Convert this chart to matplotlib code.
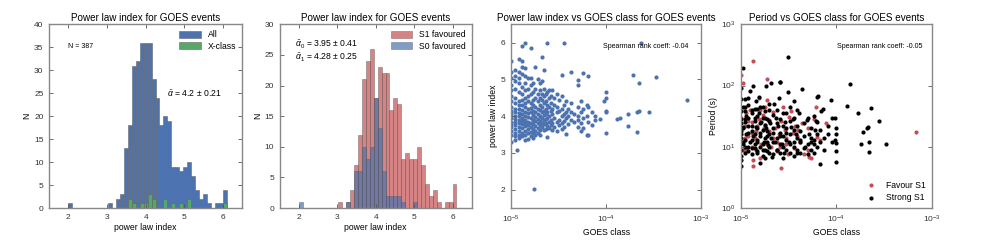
import numpy as np
import matplotlib
matplotlib.use("Agg")
import matplotlib.pyplot as plt
from matplotlib.ticker import NullLocator

plt.rcParams["font.family"] = ["Liberation Sans", "DejaVu Sans"]
plt.rcParams["mathtext.fontset"] = "custom"
plt.rcParams["mathtext.rm"] = "Liberation Sans"
plt.rcParams["mathtext.it"] = "Liberation Sans:italic"

# histogram bins (40 bins over the power law index range)
bin_edges = np.linspace(2.0, 6.1, 41)

# counts per bin, all events
all_counts = [1, 0, 0, 0, 0, 0, 0, 0, 0, 0,
              1, 0, 2, 3, 13, 18, 31, 32, 36, 36,
              36, 28, 24, 18, 20, 19, 9, 9, 8, 9,
              10, 7, 4, 2, 3, 1, 0, 1, 1, 4]
xclass_counts = [0, 0, 0, 0, 0, 0, 0, 0, 0, 0,
                 0, 0, 0, 0, 0, 2, 1, 0, 1, 1,
                 3, 2, 0, 0, 2, 0, 1, 0, 1, 0,
                 2, 0, 0, 0, 0, 0, 0, 0, 0, 1]
s1_counts = [0, 0, 0, 0, 0, 0, 0, 0, 0, 0,
             1, 0, 1, 3, 7, 12, 21, 24, 26, 18,
             23, 22, 22, 16, 18, 17, 8, 9, 8, 8,
             10, 7, 4, 2, 3, 1, 0, 1, 1, 4]
s0_counts = [1, 0, 0, 0, 0, 0, 0, 0, 0, 0,
             0, 0, 1, 0, 6, 6, 10, 8, 10, 18,
             13, 6, 2, 2, 2, 2, 1, 0, 0, 1,
             0, 0, 0, 0, 0, 0, 0, 0, 0, 0]

# power law index vs GOES class (GOES class in units of 1e-5 W/m^2)
pl_goes = [
    1.0, 1.0, 1.0, 1.0, 1.0, 1.0, 1.0, 1.0, 1.0, 1.0, 1.0, 1.0, 1.0, 1.0, 1.0, 1.0, 1.0,
    1.1, 1.1, 1.1, 1.1, 1.1, 1.1, 1.1, 1.1, 1.1, 1.1, 1.1, 1.1, 1.1, 1.1, 1.1, 1.1, 1.15,
    1.2, 1.2, 1.2, 1.2, 1.2, 1.2, 1.2, 1.2, 1.2, 1.2, 1.2, 1.2, 1.2, 1.2, 1.2, 1.2,
    1.3, 1.3, 1.3, 1.3, 1.3, 1.3, 1.3, 1.3, 1.3, 1.3, 1.3, 1.3, 1.3, 1.3, 1.3, 1.3,
    1.4, 1.4, 1.4, 1.4, 1.4, 1.4, 1.4, 1.4, 1.4, 1.4, 1.4, 1.4, 1.4, 1.4, 1.4, 1.4,
    1.5, 1.5, 1.5, 1.5, 1.5, 1.5, 1.5, 1.5, 1.5, 1.5, 1.5, 1.5,
    1.6, 1.6, 1.6, 1.6, 1.6, 1.6, 1.6, 1.6, 1.6, 1.6, 1.6, 1.6,
    1.7, 1.7, 1.7, 1.7, 1.7, 1.7, 1.7, 1.7, 1.7, 1.7, 1.7,
    1.75, 1.8, 1.8, 1.8, 1.8, 1.8, 1.8, 1.8, 1.8, 1.8, 1.8,
    1.9, 1.9, 1.9, 1.9, 1.9, 1.9, 1.9, 1.9, 1.9,
    2.0, 2.0, 2.0, 2.0, 2.0, 2.0, 2.0, 2.0, 2.0, 2.0,
    2.1, 2.1, 2.1, 2.1, 2.1, 2.1, 2.1, 2.1, 2.1,
    2.2, 2.2, 2.2, 2.2, 2.2, 2.2, 2.2, 2.2, 2.2,
    2.3, 2.3, 2.3, 2.3, 2.3, 2.3, 2.3,
    2.4, 2.4, 2.4, 2.4, 2.4, 2.4, 2.4,
    2.5, 2.5, 2.5, 2.5, 2.5, 2.5,
    2.6, 2.6, 2.6, 2.6, 2.6,
    2.7, 2.7, 2.7, 2.7, 2.7,
    2.8, 2.8, 2.8, 2.8,
    3.0, 3.0, 3.0, 3.0, 3.0,
    3.2, 3.2, 3.2, 3.2,
    3.4, 3.4, 3.4, 3.4, 3.4, 3.4,
    3.6, 3.6, 3.6, 3.6, 3.6,
    3.8, 3.8, 3.8, 3.8,
    4.0, 4.0, 4.0,
    4.3, 4.3, 4.3, 4.3,
    4.6, 4.6,
    5.0, 5.0, 5.0,
    5.1, 5.1, 5.1,
    5.4, 5.4, 5.4, 5.4,
    5.7, 5.7, 5.7, 5.7,
    6.2, 6.2, 6.2,
    6.5, 6.5, 6.5, 6.5,
    7.0, 7.0, 7.6, 7.6, 8.6, 9.4,
    10.0, 10.0, 10.0, 10.0, 10.0,
    13.0, 14.0, 17.0, 17.0, 19.0, 21.0, 21.0, 22.0, 22.0, 23.0, 28.0, 33.0, 70.0,
]
pl_index = [
    5.5, 5.2, 5.05, 4.85, 4.7, 4.55, 4.4, 4.25, 4.15, 4.05, 3.95, 3.85, 3.78, 3.7, 3.6, 3.5, 3.3,
    5.25, 5.1, 4.95, 4.75, 4.5, 4.35, 4.2, 4.1, 4.0, 3.92, 3.85, 3.75, 3.65, 3.55, 3.45, 3.35, 3.08,
    5.55, 5.2, 5.05, 4.9, 4.65, 4.4, 4.3, 4.2, 4.08, 4.0, 3.9, 3.82, 3.7, 3.6, 3.5, 3.4,
    5.9, 5.5, 5.35, 5.15, 4.8, 4.6, 4.45, 4.3, 4.18, 4.05, 3.95, 3.88, 3.78, 3.68, 3.55, 3.45,
    6.0, 5.3, 5.1, 4.9, 4.7, 4.5, 4.35, 4.25, 4.12, 4.0, 3.9, 3.8, 3.72, 3.6, 3.5, 3.35,
    5.05, 4.75, 4.55, 4.4, 4.2, 4.08, 3.98, 3.85, 3.75, 3.65, 3.55, 3.38,
    5.85, 5.05, 4.85, 4.6, 4.35, 4.22, 4.1, 3.95, 3.82, 3.7, 3.58, 3.45,
    4.9, 4.65, 4.45, 4.3, 4.15, 4.02, 3.9, 3.78, 3.66, 3.55, 3.4,
    2.03, 5.35, 4.75, 4.5, 4.25, 4.1, 3.98, 3.86, 3.72, 3.6, 3.5,
    5.0, 4.6, 4.4, 4.2, 4.05, 3.92, 3.8, 3.68, 3.55,
    4.9, 4.7, 4.5, 4.3, 4.18, 4.0, 3.88, 3.75, 3.62, 3.48,
    5.6, 4.95, 4.6, 4.45, 4.25, 4.1, 3.95, 3.82, 3.7,
    5.25, 4.75, 4.55, 4.35, 4.15, 4.02, 3.9, 3.78, 3.62,
    4.6, 4.4, 4.2, 4.05, 3.92, 3.8, 3.65,
    6.0, 4.65, 4.3, 4.1, 3.95, 3.72, 3.42,
    4.7, 4.5, 4.25, 4.0, 3.85, 3.68,
    4.55, 4.35, 4.15, 3.9, 3.75,
    4.7, 4.2, 4.05, 3.8, 3.62,
    4.5, 4.3, 3.95, 3.7,
    4.6, 4.25, 4.1, 3.85, 3.6,
    4.45, 4.15, 3.9, 3.75,
    5.12, 4.55, 4.2, 4.0, 3.8, 3.65,
    6.0, 4.3, 4.05, 3.88, 3.7,
    4.4, 4.1, 3.95, 3.52,
    4.2, 4.0, 3.78,
    5.19, 4.35, 4.12, 3.9,
    4.05, 3.85,
    4.25, 3.9, 3.7,
    4.97, 4.85, 4.0,
    4.4, 4.1, 3.8, 3.6,
    5.17, 4.2, 3.95, 3.68,
    4.3, 4.0, 3.5,
    5.08, 4.25, 3.85, 3.48,
    4.1, 3.75, 4.0, 3.9, 3.93, 4.4,
    4.67, 4.5, 4.15, 4.1, 3.54,
    3.93, 3.94, 3.72, 4.07, 5.12, 4.1, 3.58, 4.9, 4.15, 6.0, 4.1, 5.06, 4.45,
]

# period vs GOES class, events favouring S1
fav_goes = [1.0, 1.06, 1.35, 1.87, 68.0, 7.8, 2.64, 1.36, 1.36, 1.6, 1.3, 1.2,
            1.1, 1.15, 1.0, 1.0, 1.25, 1.45, 1.55, 1.7, 1.9, 1.55, 1.8, 2.2,
            2.3, 2.1, 2.5, 2.65, 2.8, 3.0, 3.1, 3.4, 3.7, 3.6, 3.9, 4.4,
            4.6, 5.2, 5.5, 5.8, 6.1, 6.3, 6.7, 2.0, 1.8, 1.4, 1.15, 2.4,
            2.9, 3.2, 1.65, 1.3, 4.0, 5.0, 1.0, 1.05, 1.1, 1.2, 1.3, 1.45,
            1.5, 1.6, 1.75, 1.9, 2.0, 2.2, 2.4, 2.6, 3.0, 3.5, 4.2, 5.0]
fav_period = [148, 109, 255, 129, 17.4, 24, 4.5, 4.9, 6.0, 6.5, 10, 15,
              22, 8.7, 30, 12, 40, 18, 28, 33, 57, 63, 45, 37,
              20, 10, 16, 26, 45, 14, 7.5, 38, 22, 9.5, 15, 24,
              7.5, 6.8, 6.5, 28, 44, 14.5, 13, 18, 23, 14, 35, 12,
              19, 31, 11, 25, 19, 20, 20, 9, 14, 26, 17, 9,
              22, 40, 20, 11, 27, 14, 8.5, 10, 11, 17, 12, 9]

# period vs GOES class, strong S1 events
strong_goes = [1.0, 1.0, 1.0, 1.0, 1.0, 1.0, 1.0, 1.06, 1.05, 1.05, 1.1, 1.1,
               1.1, 1.1, 1.15, 1.15, 1.2, 1.2, 1.2, 1.25, 1.25, 1.3, 1.3, 1.3,
               1.35, 1.35, 1.4, 1.4, 1.45, 1.45, 1.5, 1.5, 1.5, 1.55, 1.55, 1.6,
               1.6, 1.65, 1.7, 1.7, 1.75, 1.8, 1.8, 1.85, 1.85, 1.9, 1.95, 2.0,
               2.0, 2.05, 2.1, 2.1, 2.15, 2.2, 2.25, 2.3, 2.35, 2.4, 2.45, 2.5,
               2.55, 2.6, 2.6, 2.7, 2.8, 2.85, 2.9, 3.0, 3.1, 3.16, 3.2, 3.3,
               3.4, 3.5, 3.6, 3.6, 3.8, 3.9, 4.1, 4.2, 4.4, 4.7, 4.9, 5.2,
               5.5, 5.8, 6.0, 6.2, 6.35, 6.5, 6.7, 6.9, 7.2, 8.7, 9.8, 10.0,
               9.6, 10.0, 10.0, 13.0, 14.0, 17.0, 18.0, 19.0, 21.0, 21.5, 22.0, 22.0,
               23.0, 28.0, 33.0, 1.0,
               1.0, 1.0, 1.0, 1.0, 1.05, 1.05, 1.05,
               1.1, 1.1, 1.1, 1.1, 1.2, 1.2, 1.2, 1.2,
               1.3, 1.3, 1.3, 1.3, 1.4, 1.4, 1.4, 1.4,
               1.5, 1.5, 1.5, 1.5, 1.6, 1.6, 1.6, 1.6,
               1.7, 1.7, 1.7, 1.7, 1.8, 1.8, 1.8, 1.8,
               1.9, 1.9, 1.9, 1.9, 2.0, 2.0, 2.0, 2.0,
               2.2, 2.2, 2.2, 2.2, 2.4, 2.4, 2.4, 2.4,
               2.6, 2.6, 2.6, 2.6, 2.8, 2.8, 2.8, 2.8,
               3.0, 3.0, 3.0, 3.0, 3.3, 3.3, 3.3, 3.3,
               3.6, 3.6, 3.6, 3.6, 3.9, 3.9, 3.9, 3.9,
               4.2, 4.2, 4.2, 4.6, 4.6, 4.6, 5.0, 5.0, 5.0,
               5.4, 5.4, 5.4, 5.8, 5.8, 5.8, 6.3, 6.3, 6.3,
               6.8, 6.8, 7.5, 7.5, 8.2, 8.2, 9.0, 9.0, 10.0, 10.0]
strong_period = [6, 9, 14, 18, 24, 38, 90, 196, 12, 20, 28, 45,
                 60, 10, 16, 32, 62, 8.5, 22, 80, 12, 40, 18, 9.5,
                 98, 15, 30, 11, 55, 21, 42, 8.5, 13, 65, 35, 5.4,
                 17, 25, 44, 9, 12, 6.5, 30, 100, 20, 15, 10.5, 40,
                 8, 24, 110, 14, 6.8, 17, 50, 12, 30, 9, 22, 62,
                 112, 114, 15, 11, 35, 8, 25, 17, 78, 289, 12, 45,
                 21, 28, 55, 10, 16, 8, 36, 13, 87, 10, 27, 16,
                 12, 11, 19, 26, 66, 67, 5.3, 38, 42, 58, 29, 20,
                 13, 11.5, 5.6, 46, 105, 35, 11, 17.5, 20, 21, 11.8, 8.3,
                 43, 26, 11.3, 4.8,
                 7, 16, 28, 60, 11, 21, 45,
                 8, 13, 25, 38, 10, 17, 30, 48,
                 7.5, 13, 22, 35, 9.5, 16, 26, 42,
                 8, 12, 20, 32, 10, 15, 24, 45,
                 7, 11, 19, 30, 9, 14, 23, 38,
                 8.5, 12, 18, 28, 10, 16, 26, 50,
                 7.5, 12, 20, 33, 9, 14, 24, 40,
                 8, 11, 17, 28, 6.5, 10, 15, 22,
                 9, 13, 20, 36, 8, 11, 16, 26,
                 7, 12, 19, 30, 9, 14, 22, 40,
                 8, 12, 18, 9.5, 15, 24, 7.5, 11, 30,
                 9, 14, 20, 8, 13, 32, 10, 16, 25,
                 12, 19, 9, 14, 16, 22, 12, 30, 8.5, 16]

blue = "#4C72B0"
green = "#55A868"
red = "#C44E52"
spine_col = "#888888"

fig = plt.figure(figsize=(9.81, 2.45), dpi=100)
boxes = [(0.050, 0.151, 0.197, 0.750),
         (0.285, 0.151, 0.196, 0.750),
         (0.521, 0.151, 0.194, 0.750),
         (0.755, 0.151, 0.195, 0.750)]
axes = [fig.add_axes(b) for b in boxes]

for ax in axes:
    for sp in ax.spines.values():
        sp.set_color(spine_col)
        sp.set_linewidth(1.0)
    ax.tick_params(direction="in", top=True, right=True, length=3, width=0.6,
                   color="#555555", labelsize=6, labelcolor="#333333", pad=4)

centres = bin_edges[:-1]
title_fs = 7.1
label_fs = 6.2

# panel 1
ax = axes[0]
ax.hist(centres, bins=bin_edges, weights=all_counts, color=blue,
        edgecolor="#666666", linewidth=0.4, label="All")
ax.hist(centres, bins=bin_edges, weights=xclass_counts, color=green,
        edgecolor="#666666", linewidth=0.4, label="X-class")
ax.set_xlim(1.5, 6.5)
ax.set_ylim(0, 40)
ax.set_xticks([2, 3, 4, 5, 6])
ax.set_yticks(range(0, 41, 5))
ax.set_title("Power law index for GOES events", fontsize=title_fs, pad=2)
ax.set_xlabel("power law index", fontsize=label_fs, labelpad=2)
ax.set_ylabel("N", fontsize=label_fs, labelpad=2)
ax.text(0.10, 0.878, "N = 387", transform=ax.transAxes, fontsize=5,
        va="center")
ax.text(0.61, 0.62, r"$\bar{\alpha}$ = 4.2 $\pm$ 0.21", transform=ax.transAxes,
        fontsize=6.2, va="center")
ax.legend(loc="upper right", fontsize=6.2, frameon=False, handlelength=2.5,
          handleheight=0.9, borderaxespad=0.3, labelspacing=0.3)

# panel 2
ax = axes[1]
ax.hist(centres, bins=bin_edges, weights=s1_counts, color=red, alpha=0.7,
        edgecolor="#555555", linewidth=0.4, label="S1 favoured")
ax.hist(centres, bins=bin_edges, weights=s0_counts, color=blue, alpha=0.7,
        edgecolor="#555555", linewidth=0.4, label="S0 favoured")
ax.set_xlim(1.5, 6.5)
ax.set_ylim(0, 30)
ax.set_xticks([2, 3, 4, 5, 6])
ax.set_yticks(range(0, 31, 5))
ax.set_title("Power law index for GOES events", fontsize=title_fs, pad=2)
ax.set_xlabel("power law index", fontsize=label_fs, labelpad=2)
ax.set_ylabel("N", fontsize=label_fs, labelpad=2)
ax.text(0.08, 0.887, r"$\bar{\alpha}_0$ = 3.95 $\pm$ 0.41", transform=ax.transAxes,
        fontsize=6.2, va="center")
ax.text(0.08, 0.818, r"$\bar{\alpha}_1$ = 4.28 $\pm$ 0.25", transform=ax.transAxes,
        fontsize=6.2, va="center")
ax.legend(loc="upper right", fontsize=6.2, frameon=False, handlelength=2.5,
          handleheight=0.9, borderaxespad=0.3, labelspacing=0.3)

# panel 3
ax = axes[2]
ax.scatter(np.array(pl_goes) * 1e-5, pl_index, s=9, color=blue, linewidths=0)
ax.set_xscale("log")
ax.set_xlim(1e-5, 1e-3)
ax.set_ylim(1.5, 6.5)
ax.set_yticks([2, 3, 4, 5, 6])
ax.xaxis.set_minor_locator(NullLocator())
ax.set_title("Power law index vs GOES class for GOES events", fontsize=title_fs, pad=2)
ax.set_xlabel("GOES class", fontsize=label_fs, labelpad=2)
ax.set_ylabel("power law index", fontsize=label_fs, labelpad=2)
ax.text(0.93, 0.88, "Spearman rank coeff: -0.04", transform=ax.transAxes,
        fontsize=5, ha="right", va="center")

# panel 4
ax = axes[3]
ax.scatter(np.array(fav_goes) * 1e-5, fav_period, s=9, color=red, linewidths=0,
           label="Favour S1")
ax.scatter(np.array(strong_goes) * 1e-5, strong_period, s=9, color="black",
           linewidths=0, label="Strong S1")
ax.set_xscale("log")
ax.set_yscale("log")
ax.set_xlim(1e-5, 1e-3)
ax.set_ylim(1, 1e3)
ax.xaxis.set_minor_locator(NullLocator())
ax.yaxis.set_minor_locator(NullLocator())
ax.set_title("Period vs GOES class for GOES events", fontsize=title_fs, pad=2)
ax.set_xlabel("GOES class", fontsize=label_fs, labelpad=2)
ax.set_ylabel("Period (s)", fontsize=label_fs, labelpad=2)
ax.text(0.95, 0.88, "Spearman rank coeff: -0.05", transform=ax.transAxes,
        fontsize=5, ha="right", va="center")
ax.legend(loc="lower right", fontsize=6.2, frameon=False, scatterpoints=1,
          handletextpad=0.8, borderaxespad=0.3, labelspacing=0.4)

fig.savefig("out.png", dpi=100)
